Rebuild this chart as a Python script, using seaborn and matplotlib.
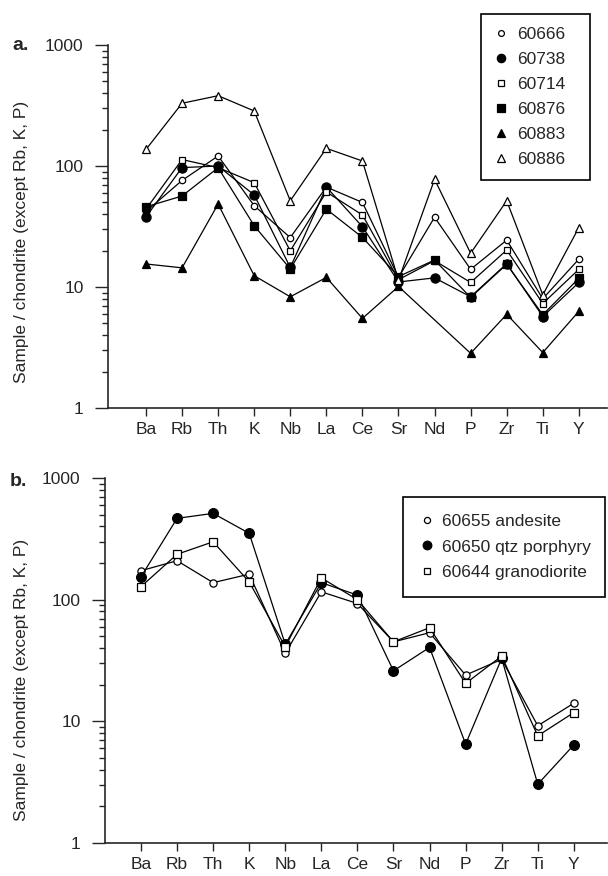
import numpy as np
import pandas as pd
import matplotlib
matplotlib.use("Agg")
import matplotlib.pyplot as plt
from matplotlib.lines import Line2D
from matplotlib.ticker import FixedLocator, LogLocator, FuncFormatter, NullLocator
import seaborn as sns

# ---------------- data ----------------
elements = ["Ba", "Rb", "Th", "K", "Nb", "La", "Ce", "Sr", "Nd", "P", "Zr", "Ti", "Y"]

# panel a
a_names = ["60666", "60738", "60714", "60876", "60883", "60886"]
a_60666 = [42, 76, 121, 47, 25.6, 67, 50, 12.0, 37.7, 14.0, 24.4, 8.0, 17.0]
a_60738 = [38, 97, 100, 57.6, 14.5, 67, 31.5, 11.0, 11.9, 8.3, 15.6, 5.7, 10.9]
a_60714 = [44, 113, 97, 72.8, 19.9, 61, 39.4, 11.5, 16.5, 10.9, 20.2, 7.3, 14.0]
a_60876 = [46, 56.5, 96.8, 32.1, 14.1, 44, 25.7, 12.2, 16.7, 8.2, 15.4, 5.9, 11.8]
a_60883 = [15.5, 14.4, 48.5, 12.4, 8.3, 12.0, 5.5, 10.1, np.nan, 2.83, 5.95, 2.87, 6.3]
a_60886 = [137, 330, 381, 285, 51.6, 140, 110, 11.4, 77.6, 19.0, 51.6, 8.6, 31.0]

# panel b
b_names = ["60655 andesite", "60650 qtz porphyry", "60644 granodiorite"]
b_60655 = [173, 209, 138, 162, 36.2, 116, 93, 45, 53.5, 24.0, 32.3, 9.2, 14.1]
b_60650 = [154, 466, 512, 351, 43, 138, 109, 26, 40.5, 6.5, 32.9, 3.04, 6.4]
b_60644 = [128, 236, 299, 140, 41, 151, 100, 45, 58.8, 20.5, 34.4, 7.6, 11.8]

ylabel = "Sample / chondrite (except Rb, K, P)"

# ---------------- style ----------------
sns.set_style("ticks")
plt.rcParams["font.family"] = ["Liberation Sans", "DejaVu Sans"]
plt.rcParams["axes.linewidth"] = 1.2
FS = 12.5

# marker styles: (marker, filled, size in plot, size in legend)
a_styles = {
    "60666": ("o", False, 4.6, 4.2),
    "60738": ("o", True, 6.6, 6.0),
    "60714": ("s", False, 4.8, 4.4),
    "60876": ("s", True, 6.4, 5.8),
    "60883": ("^", True, 5.8, 5.6),
    "60886": ("^", False, 5.8, 5.2),
}
b_styles = {
    "60655 andesite": ("o", False, 5.2, 4.4),
    "60650 qtz porphyry": ("o", True, 7.0, 6.2),
    "60644 granodiorite": ("s", False, 5.2, 4.6),
}

pos = np.arange(len(elements))


def long_df(names, series):
    frames = []
    for n, vals in zip(names, series):
        frames.append(pd.DataFrame({"pos": pos, "element": elements,
                                    "sample": n, "value": vals}))
    return pd.concat(frames, ignore_index=True)


df_a = long_df(a_names, [a_60666, a_60738, a_60714, a_60876, a_60883, a_60886])
df_b = long_df(b_names, [b_60655, b_60650, b_60644])

fig = plt.figure(figsize=(6.08, 8.76), dpi=100)
W, H = 608.0, 876.0


def px_axes(left, right, top, bottom):
    return fig.add_axes([left / W, 1 - bottom / H, (right - left) / W, (bottom - top) / H])


ax_a = px_axes(108, 607, 45, 408)
ax_b = px_axes(105, 607, 478, 843)


def draw(ax, df, names, styles, xlim):
    ax.set_yscale("log")
    for n in names:
        m, filled, ms, _ = styles[n]
        sub = df[df["sample"] == n]
        sns.lineplot(data=sub, x="pos", y="value", ax=ax, color="black",
                     linewidth=0.9, marker=m, markersize=ms,
                     markerfacecolor="black" if filled else "white",
                     markeredgecolor="black", markeredgewidth=0.9,
                     errorbar=None, legend=False)
    ax.set_ylim(1, 1000)
    ax.set_xlim(*xlim)
    ax.yaxis.set_major_locator(FixedLocator([1, 10, 100, 1000]))
    ax.yaxis.set_major_formatter(FuncFormatter(lambda v, _: f"{v:g}"))
    ax.yaxis.set_minor_locator(LogLocator(base=10, subs=np.arange(2, 10)))
    ax.set_xticks(pos, elements)
    ax.xaxis.set_minor_locator(NullLocator())
    ax.tick_params(axis="y", which="major", length=9.5, width=1.0, pad=8, labelsize=FS)
    ax.tick_params(axis="y", which="minor", length=4.5, width=1.0)
    ax.tick_params(axis="x", which="major", length=6, width=1.0, pad=4, labelsize=FS)
    sns.despine(ax=ax)
    ax.set_xlabel("")
    ax.set_ylabel(ylabel, fontsize=FS)


draw(ax_a, df_a, a_names, a_styles, (-1.053, 12.78))
draw(ax_b, df_b, b_names, b_styles, (-0.998, 12.92))

# y-labels placement
for ax, left, right, ycen, top, bottom in [(ax_a, 108, 607, 242, 45, 408),
                                          (ax_b, 105, 607, 680, 478, 843)]:
    ax.yaxis.set_label_coords((22 - left) / (right - left), (bottom - ycen) / (bottom - top))
    ax.yaxis.label.set_va("center")

# panel letters
fig.text(12 / W, 1 - 46 / H, "a.", fontsize=14, fontweight="bold", va="center", ha="left")
fig.text(10 / W, 1 - 481 / H, "b.", fontsize=14, fontweight="bold", va="center", ha="left")


def handles(names, styles):
    hs = []
    for n in names:
        m, filled, _, lms = styles[n]
        hs.append(Line2D([], [], linestyle="none", marker=m, markersize=lms,
                         markerfacecolor="black" if filled else "white",
                         markeredgecolor="black", markeredgewidth=0.9, label=n))
    return hs


def add_legend(ax, names, styles, box, lsp, bp, hl, htp):
    x0, x1, y0, y1 = box
    leg = ax.legend(handles=handles(names, styles), loc="upper left",
                    bbox_to_anchor=(x0 / W, 1 - y1 / H, (x1 - x0) / W, (y1 - y0) / H),
                    bbox_transform=fig.transFigure, mode="expand", borderaxespad=0,
                    frameon=True, fancybox=False, shadow=False, framealpha=1,
                    edgecolor="black", fontsize=FS, labelspacing=lsp, borderpad=bp,
                    handlelength=hl, handletextpad=htp)
    leg.get_frame().set_linewidth(1.2)
    return leg


add_legend(ax_a, a_names, a_styles, (481, 590, 14, 180), 0.57, 0.75, 0.77, 0.57)
add_legend(ax_b, b_names, b_styles, (403, 605, 497, 590), 0.62, 0.95, 0.91, 0.41)

fig.savefig("out.png", dpi=100)
